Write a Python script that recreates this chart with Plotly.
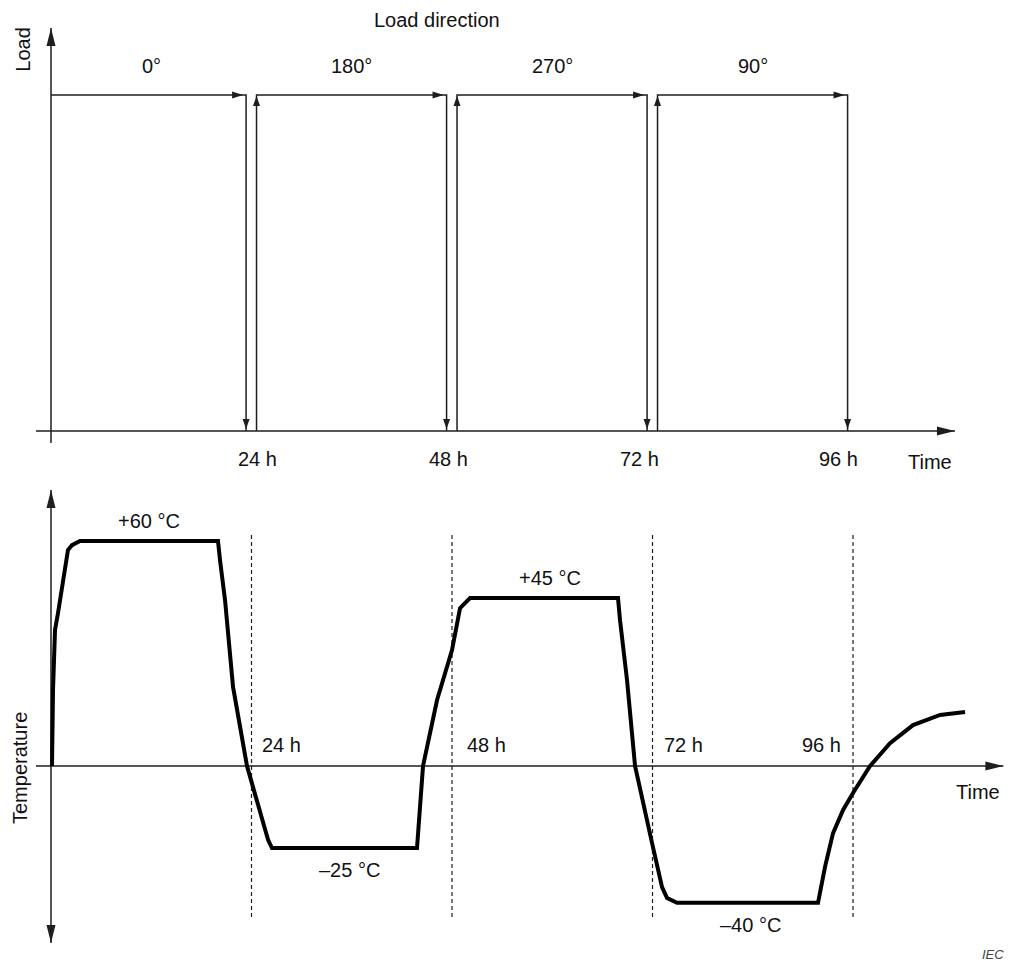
import plotly.graph_objects as go

# ---------------- data ----------------
load_change_hours = [24, 48, 72, 96]
load_directions = ["0°", "180°", "270°", "90°"]
load_level = 1.0
time_tick_labels = ["24 h", "48 h", "72 h", "96 h"]

curve_time_h = [0.12, 0.24, 0.48, 0.84, 2.03, 2.51, 3.47, 19.99, 20.23, 20.83, 21.79,
                23.46, 25.98, 26.45, 43.81, 44.17, 44.53, 46.21, 48.0, 48.96, 50.16,
                67.87, 68.11, 68.95, 69.91, 71.94, 73.14, 73.74, 74.93, 91.81, 92.05,
                92.65, 93.61, 94.81, 96.0, 98.04, 100.43, 103.18, 106.42, 109.41]
curve_temp = [0, 20.3, 36.3, 40.8, 57.6, 58.9, 60, 60, 54.9, 44.3, 21.1,
              0, -19.7, -21.9, -21.9, -9.1, 0, 17.6, 30.9, 42.1, 44.8,
              44.8, 38.9, 22.9, 0, -20.5, -32.3, -35.2, -36.5, -36.5, -33.9,
              -26.9, -17.9, -11.7, -7.2, 0, 6.1, 10.9, 13.6, 14.4]
plateau_labels = ["+60 °C", "–25 °C", "+45 °C", "–40 °C"]

# ---------------- styling / layout ----------------
W, H = 1012, 965
FONT = "Liberation Sans, Arial, sans-serif"
LINE = "#1e1e1e"
TXT = "#111111"
FS = 20

X_RANGE = [-6.105, 115.03]
SPLIT = 1 - 480 / H
Y1_RANGE = [-0.1458, 1.2827]
Y2_RANGE = [-53.067, 76.267]

fig = go.Figure()
shapes = []
annotations = []


def head(xref, yref, x, y, direction, length, width, shift=0):
    w = width / 2
    if direction == "up":
        p = f"M0,{-shift} L{-w},{-shift-length} L{w},{-shift-length} Z"
    elif direction == "down":
        p = f"M0,{shift} L{-w},{shift+length} L{w},{shift+length} Z"
    elif direction == "right":
        p = f"M{-shift},0 L{-shift-length},{w} L{-shift-length},{-w} Z"
    else:
        p = f"M{shift},0 L{shift+length},{w} L{shift+length},{-w} Z"
    shapes.append(dict(type="path", xref=xref, yref=yref, xsizemode="pixel",
                       ysizemode="pixel", xanchor=x, yanchor=y, path=p,
                       fillcolor=LINE, line=dict(width=0), layer="above"))


def line(xs, ys, xaxis, yaxis, width=1.5, color=LINE, dash=None):
    fig.add_trace(go.Scatter(x=xs, y=ys, mode="lines", xaxis=xaxis, yaxis=yaxis,
                             line=dict(color=color, width=width, dash=dash),
                             hoverinfo="skip", showlegend=False))


def text(t, xref, yref, x, y, size=FS, xanchor="center", yanchor="middle",
         angle=0, xshift=0, yshift=0, color=TXT):
    annotations.append(dict(text=t, xref=xref, yref=yref, x=x, y=y, showarrow=False,
                            font=dict(family=FONT, size=size, color=color),
                            xanchor=xanchor, yanchor=yanchor, textangle=angle,
                            xshift=xshift, yshift=yshift))


# ---------- top panel: load direction ----------
line([-1.8, 108.2], [0, 0], "x", "y")
head("x", "y", 108.2, 0, "right", 18, 9)
line([0, 0], [-0.036, 1.199], "x", "y")
head("x", "y", 0, 1.199, "up", 18, 9)

gap_before, gap_after = 0.65, 0.6
starts = [0] + [h + gap_after for h in load_change_hours[:-1]]
for i, h in enumerate(load_change_hours):
    t_end = h - gap_before
    t0 = starts[i]
    if i == 0:
        xs, ys = [t0, t_end, t_end], [load_level, load_level, 0]
    else:
        xs, ys = [t0, t0, t_end, t_end], [0, load_level, load_level, 0]
        head("x", "y", t0, load_level, "up", 10, 7, shift=1)
    line(xs, ys, "x", "y")
    head("x", "y", t_end, load_level, "right", 11, 7, shift=3)
    head("x", "y", t_end, 0, "down", 10, 7, shift=2)
    text(load_directions[i], "x", "y", h - 12, load_level, yshift=29)

top_tick_shift = [6, -4, -13, -15]
for h, lab, sh in zip(load_change_hours, time_tick_labels, top_tick_shift):
    text(lab, "x", "y", h, 0, xshift=sh, yshift=-28)
text("Time", "x", "y", 105.2, 0, yshift=-31)
text("Load", "x", "y", 0, 1.135, angle=-90, xshift=-28)
text("Load direction", "x", "y", 38.4, 1.223, xanchor="left")

# ---------- bottom panel: temperature ----------
line([-1.8, 114.0], [0, 0], "x2", "y2")
head("x2", "y2", 114.0, 0, "right", 18, 9)
line([0, 0], [-47.2, 73.6], "x2", "y2")
head("x2", "y2", 0, 73.6, "up", 18, 9)
head("x2", "y2", 0, -47.2, "down", 18, 9)

for h in load_change_hours:
    line([h, h], [-40.3, 61.6], "x2", "y2", width=1.2, dash="4px,3px")

line(curve_time_h, curve_temp, "x2", "y2", width=4, color="#000000")

bot_tick = [(8.5, "left"), (13, "left"), (9, "left"), (-10.5, "right")]
for h, lab, (sh, anc) in zip(load_change_hours, time_tick_labels, bot_tick):
    text(lab, "x2", "y2", h, 0, xanchor=anc, xshift=sh, yshift=21)
text("Time", "x2", "y2", 111.0, 0, yshift=-26)
text("Temperature", "x2", "y2", 0, 0, angle=-90, xshift=-31, yshift=-2)

for i, (h, lab) in enumerate(zip(load_change_hours, plateau_labels)):
    seg = [T for t, T in zip(curve_time_h, curve_temp) if h - 24 <= t <= h]
    if i % 2 == 0:
        text(lab, "x2", "y2", h - 12.3, max(seg), yshift=20)
    else:
        text(lab, "x2", "y2", h - 12.3, min(seg), yshift=-22)

text("<i>IEC</i>", "paper", "paper", 993 / W, 1 - 954 / H, size=13, color="#444444")

ax = dict(visible=False, fixedrange=True)
fig.update_layout(
    width=W, height=H, autosize=False,
    margin=dict(l=0, r=0, t=0, b=0, pad=0),
    paper_bgcolor="white", plot_bgcolor="white", showlegend=False,
    xaxis=dict(ax, domain=[0, 1], range=X_RANGE, anchor="y"),
    yaxis=dict(ax, domain=[SPLIT, 1], range=Y1_RANGE, anchor="x"),
    xaxis2=dict(ax, domain=[0, 1], range=X_RANGE, anchor="y2"),
    yaxis2=dict(ax, domain=[0, SPLIT], range=Y2_RANGE, anchor="x2"),
    shapes=shapes, annotations=annotations,
)
fig.write_html(
    "out.html",
    config={"displayModeBar": False},
    post_script="document.body.style.margin='0';document.body.style.overflow='hidden';",
)
